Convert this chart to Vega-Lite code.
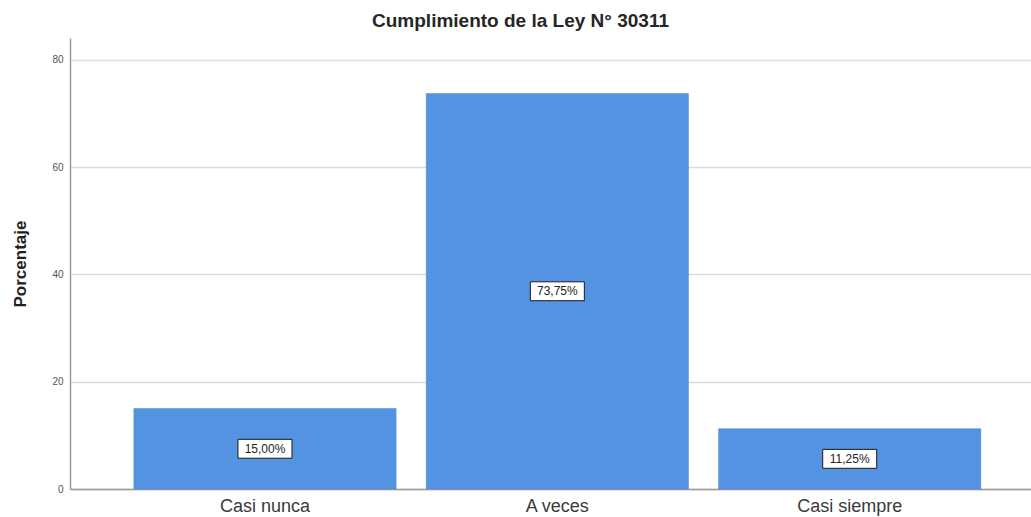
{
  "$schema": "https://vega.github.io/schema/vega-lite/v6.json",
  "autosize": "none",
  "width": 961,
  "height": 451,
  "padding": {"left": 70, "top": 38, "right": 0, "bottom": 28},
  "background": "white",
  "title": {
    "text": "Cumplimiento de la Ley N° 30311",
    "font": "Liberation Sans",
    "fontSize": 19,
    "fontWeight": "bold",
    "color": "#262626",
    "anchor": "middle",
    "frame": "group",
    "dx": -30,
    "offset": 7
  },
  "data": {
    "values": [
      {"categoria": "Casi nunca", "pct": 15.0, "label": "15,00%"},
      {"categoria": "A veces", "pct": 73.75, "label": "73,75%"},
      {"categoria": "Casi siempre", "pct": 11.25, "label": "11,25%"}
    ]
  },
  "transform": [{"calculate": "datum.pct / 2", "as": "mid"}],
  "encoding": {
    "x": {
      "field": "categoria",
      "type": "nominal",
      "sort": null,
      "scale": {"paddingInner": 0.103, "paddingOuter": 0.195, "align": 0.56},
      "axis": {
        "title": null,
        "labelAngle": 0,
        "labelFont": "Liberation Sans",
        "labelFontSize": 18,
        "labelColor": "#3a3a3a",
        "labelPadding": 8,
        "ticks": false,
        "domainColor": "#9a9a9a",
        "domainWidth": 1.5
      }
    }
  },
  "layer": [
    {
      "mark": {"type": "bar", "color": "#5493e2", "stroke": "#4a86d0", "strokeWidth": 0.5},
      "encoding": {
        "y": {
          "field": "pct",
          "type": "quantitative",
          "scale": {"domain": [0, 84.1], "nice": false},
          "axis": {
            "title": "Porcentaje",
            "titleFont": "Liberation Sans",
            "titleFontSize": 17,
            "titleFontWeight": "bold",
            "titleColor": "#222222",
            "titlePadding": 22,
            "values": [0, 20, 40, 60, 80],
            "labelFont": "Liberation Sans",
            "labelFontSize": 10,
            "labelColor": "#555555",
            "labelPadding": 7,
            "ticks": false,
            "domainColor": "#9a9a9a",
            "domainWidth": 1.5,
            "grid": true,
            "gridColor": "#dcdcdc",
            "gridWidth": 1.5
          }
        }
      }
    },
    {
      "mark": {
        "type": "point",
        "shape": "M-1,-0.35L1,-0.35L1,0.35L-1,0.35Z",
        "filled": true,
        "fill": "white",
        "stroke": "#1a1a1a",
        "strokeWidth": 1,
        "opacity": 1,
        "size": 2916
      },
      "encoding": {
        "y": {"field": "mid", "type": "quantitative"}
      }
    },
    {
      "mark": {
        "type": "text",
        "font": "Liberation Sans",
        "fontSize": 12,
        "color": "#222222",
        "baseline": "middle",
        "align": "center"
      },
      "encoding": {
        "y": {"field": "mid", "type": "quantitative"},
        "text": {"field": "label"}
      }
    }
  ],
  "config": {
    "view": {"stroke": null}
  }
}
